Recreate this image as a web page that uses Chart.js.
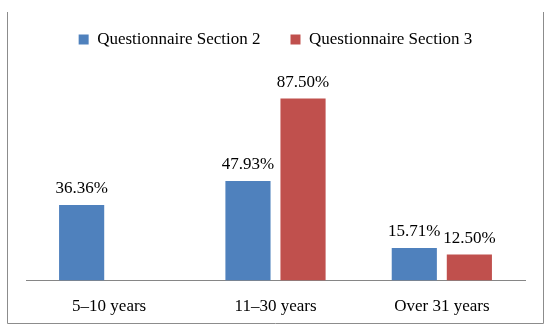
<!DOCTYPE html>
<html>
<head>
<meta charset="utf-8">
<script src="https://cdn.jsdelivr.net/npm/chart.js@4"></script>
<style>
  html, body { margin: 0; padding: 0; background: #fff; }
  #wrap { width: 550px; height: 334px; position: relative; }
</style>
</head>
<body>
<div id="wrap"><canvas id="chart" width="550" height="334"></canvas></div>
<script>
// ----- Data
const categories = ["5\u201310 years", "11\u201330 years", "Over 31 years"];
const section2 = [36.36, 47.93, 15.71];
const section3 = [null, 87.50, 12.50];
const seriesNames = ["Questionnaire Section 2", "Questionnaire Section 3"];

const FONT = "'Liberation Serif', 'Times New Roman', serif";

// gray frame round the whole chart (left, right, bottom)
const frame = {
    id: 'frame',
    beforeDraw(chart) {
        const c = chart.ctx;
        c.save();
        c.strokeStyle = '#8c8c8c';
        c.lineWidth = 1;
        c.beginPath();
        c.moveTo(7.5, 12);
        c.lineTo(7.5, 323.5);
        c.lineTo(543.5, 323.5);
        c.lineTo(543.5, 12);
        c.stroke();
        c.restore();
    }
};

// value labels on top of the bars
const valueLabels = {
    id: 'valueLabels',
    afterDatasetsDraw(chart) {
        const c = chart.ctx;
        c.save();
        c.font = '17px ' + FONT;
        c.fillStyle = '#000';
        c.textAlign = 'center';
        c.textBaseline = 'alphabetic';
        chart.data.datasets.forEach((ds, i) => {
            chart.getDatasetMeta(i).data.forEach((bar, j) => {
                const v = ds.data[j];
                if (v == null) return;
                c.fillText(v.toFixed(2) + '%', bar.x, bar.y - 12);
            });
        });
        c.restore();
    }
};

new Chart(document.getElementById('chart'), {
    type: 'bar',
    data: {
        labels: categories,
        datasets: [
            { label: seriesNames[0], data: section2, backgroundColor: '#4f81bd' },
            { label: seriesNames[1], data: section3, backgroundColor: '#c0504d' }
        ]
    },
    options: {
        responsive: false,
        animation: false,
        categoryPercentage: 0.662,
        barPercentage: 0.82,
        layout: { padding: { left: 26, right: 25, top: 1, bottom: 9 } },
        plugins: {
            legend: {
                position: 'top',
                labels: {
                    boxWidth: 10, boxHeight: 10, padding: 30,
                    color: '#000',
                    font: { family: FONT, size: 17 }
                }
            },
            tooltip: { enabled: false }
        },
        scales: {
            x: {
                grid: { display: false },
                border: { display: true, color: '#868686', width: 1 },
                ticks: { color: '#000', padding: 8, font: { family: FONT, size: 17 } }
            },
            y: { display: false, min: 0, max: 107 }
        }
    },
    plugins: [frame, valueLabels]
});
</script>
</body>
</html>
